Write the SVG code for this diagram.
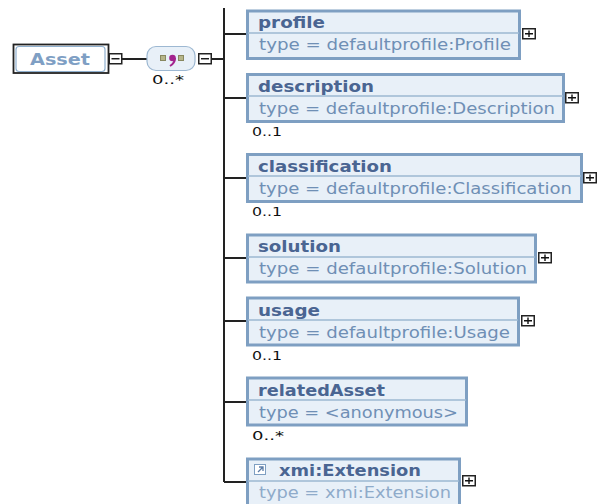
<svg xmlns="http://www.w3.org/2000/svg" width="598" height="504" viewBox="0 0 598 504">
<style>
.box{fill:#e8f0f8;stroke:#7e9fc2;stroke-width:3}
.div{stroke:#9db8d2;stroke-width:1.5;fill:none}
.t{font-family:"DejaVu Sans",sans-serif;font-weight:bold;font-size:16px;fill:#4a6592}
.s{font-family:"DejaVu Sans",sans-serif;font-size:16px;fill:#6f8fb5}
.m{font-family:"DejaVu Sans",sans-serif;font-size:13px;fill:#111}
.ln{stroke:#222;stroke-width:2;fill:none}
.ex{fill:#fff;stroke:#222;stroke-width:1.5}
.g{stroke:#111;stroke-width:1.4;fill:none}
</style>
<defs>
<g id="plus"><rect class="ex" x="0.750" y="0.750" width="12.500" height="10"/><path class="g" d="M3 5.750H11M7 2.500V9"/></g>
<g id="minus"><rect class="ex" x="0.750" y="0.750" width="12.500" height="10"/><path class="g" d="M3 5.750H11"/></g>
</defs>
<g id="connectors">
<path class="ln" d="M122 59H147M198 59H224M224 8V482M224 34H247M224 98H247M224 178H247M224 258H247M224 321H247M224 402H247M224 482H247"/>
</g>
<g id="Asset">
<rect x="13.500" y="44.500" width="95" height="28.500" fill="#fff" stroke="#222" stroke-width="1.800"/>
<rect x="16" y="46.500" width="89" height="25" rx="3" fill="#fff" stroke="#8fb0cf" stroke-width="1.200"/>
<text x="60" y="65" text-anchor="middle" textLength="60" lengthAdjust="spacingAndGlyphs" style="font-family:'DejaVu Sans',sans-serif;font-weight:bold;font-size:16px;fill:#7f9fc4">Asset</text>
<use href="#minus" x="108.500" y="53"/>
</g>
<g id="sequence">
<rect x="147" y="46.500" width="48" height="24" rx="9" fill="#e8f0f8" stroke="#9db8d2" stroke-width="1.200"/>
<rect x="160.500" y="55.500" width="5" height="5" fill="#b5b58a" stroke="#888860"/>
<rect x="178.500" y="55.500" width="5" height="5" fill="#b5b58a" stroke="#888860"/>
<circle cx="172.500" cy="58" r="3.300" fill="#a3238e"/>
<path d="M175 58Q175 63 170 66" stroke="#a3238e" stroke-width="2" fill="none"/>
<text class="m" x="152" y="84" textLength="32" lengthAdjust="spacingAndGlyphs">0..*</text>
<use href="#minus" x="198" y="53"/>
</g>
<g id="profile">
<rect class="box" x="247.500" y="11" width="272" height="47.500"/><path class="div" d="M248 33H519"/>
<text class="t" x="258" y="28" textLength="67" lengthAdjust="spacingAndGlyphs">profile</text>
<text class="s" x="259" y="50" textLength="252" lengthAdjust="spacingAndGlyphs">type = defaultprofile:Profile</text>
<use href="#plus" x="522" y="28"/>
</g>
<g id="description">
<rect class="box" x="247.500" y="74.500" width="316" height="47"/><path class="div" d="M248 96H563"/>
<text class="t" x="258" y="92" textLength="116" lengthAdjust="spacingAndGlyphs">description</text>
<text class="s" x="259" y="114" textLength="296" lengthAdjust="spacingAndGlyphs">type = defaultprofile:Description</text>
<use href="#plus" x="565" y="92"/>
<text class="m" x="252" y="136" textLength="30" lengthAdjust="spacingAndGlyphs">0..1</text>
</g>
<g id="classification">
<rect class="box" x="247.500" y="154.500" width="334" height="47"/><path class="div" d="M248 176H581"/>
<text class="t" x="258" y="172" textLength="134" lengthAdjust="spacingAndGlyphs">classification</text>
<text class="s" x="259" y="194" textLength="313" lengthAdjust="spacingAndGlyphs">type = defaultprofile:Classification</text>
<use href="#plus" x="583" y="172"/>
<text class="m" x="252" y="216" textLength="30" lengthAdjust="spacingAndGlyphs">0..1</text>
</g>
<g id="solution">
<rect class="box" x="247.500" y="235" width="288" height="47"/><path class="div" d="M248 257H535"/>
<text class="t" x="258" y="252" textLength="83" lengthAdjust="spacingAndGlyphs">solution</text>
<text class="s" x="259" y="274" textLength="268" lengthAdjust="spacingAndGlyphs">type = defaultprofile:Solution</text>
<use href="#plus" x="538" y="252"/>
</g>
<g id="usage">
<rect class="box" x="247.500" y="298" width="271" height="47"/><path class="div" d="M248 320H518"/>
<text class="t" x="258" y="316" textLength="62" lengthAdjust="spacingAndGlyphs">usage</text>
<text class="s" x="259" y="338" textLength="251" lengthAdjust="spacingAndGlyphs">type = defaultprofile:Usage</text>
<use href="#plus" x="521" y="315"/>
<text class="m" x="252" y="360" textLength="30" lengthAdjust="spacingAndGlyphs">0..1</text>
</g>
<g id="relatedAsset">
<rect class="box" x="247.500" y="378" width="219" height="47"/><path class="div" d="M248 400H466"/>
<text class="t" x="258" y="396" textLength="127" lengthAdjust="spacingAndGlyphs">relatedAsset</text>
<text class="s" x="259" y="418" textLength="199" lengthAdjust="spacingAndGlyphs">type = &lt;anonymous&gt;</text>
<text class="m" x="252" y="440" textLength="32" lengthAdjust="spacingAndGlyphs">0..*</text>
</g>
<g id="xmi-Extension">
<rect class="box" x="247.500" y="459" width="212" height="47"/><path class="div" d="M248 481H459"/>
<rect x="254.500" y="464.500" width="11" height="10" fill="#fff" stroke="#7e9fc2"/>
<path d="M258 472L263 467M259 467H263V471" stroke="#5a7ba6" stroke-width="1.300" fill="none"/>
<text class="t" x="279" y="476" textLength="142" lengthAdjust="spacingAndGlyphs">xmi:Extension</text>
<text class="s" x="259" y="498" textLength="192" lengthAdjust="spacingAndGlyphs" style="fill:#8fabca">type = xmi:Extension</text>
<use href="#plus" x="462" y="475"/>
</g>
</svg>
